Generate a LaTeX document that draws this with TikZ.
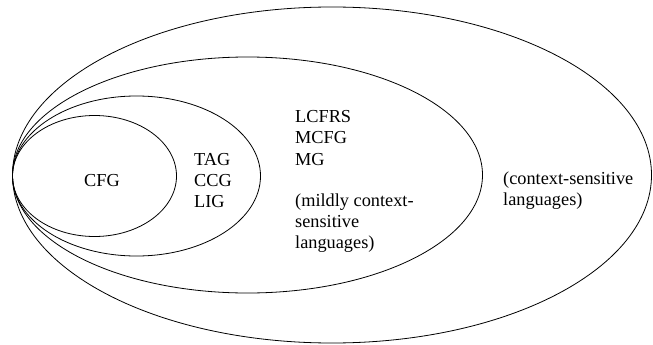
\documentclass[tikz,border=0pt]{standalone}
\usepackage{fontspec}
\setmainfont{Liberation Serif}
\begin{document}
\begin{tikzpicture}[x=1pt, y=-1pt,
  set/.style={draw=black, line width=0.8pt},
  lbl/.style={inner sep=0pt, anchor=west, align=left, font=\fontsize{18.3}{21.2}\selectfont},
  clbl/.style={inner sep=0pt, font=\fontsize{18.3}{21.2}\selectfont}]
  \useasboundingbox (0,0) rectangle (653,345);
  % nested language classes, all touching at the left
  \draw[set] (332,175) ellipse [x radius=319.5, y radius=168];
  \draw[set] (247.5,175) ellipse [x radius=235, y radius=118];
  \draw[set] (136.5,176) ellipse [x radius=124, y radius=80];
  \draw[set] (94.5,176) ellipse [x radius=82, y radius=60.5];
  % labels
  \node[clbl] (cfg) at (102,181) {CFG};
  \node[lbl] (tag) at (194,180.5) {TAG\\CCG\\LIG};
  \node[lbl] (lcfrs) at (295,138) {LCFRS\\MCFG\\MG};
  \node[lbl] (mcsl) at (295,223) {(mildly context-\\sensitive\\languages)};
  \node[lbl] (csl) at (503,191) {(context-sensitive\\languages)};
\end{tikzpicture}
\end{document}
